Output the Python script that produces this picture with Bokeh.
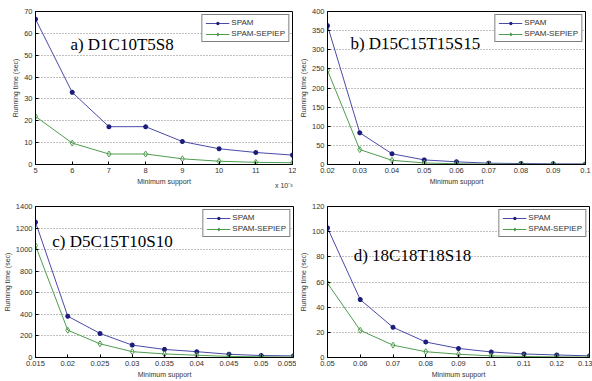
from bokeh.plotting import figure
from bokeh.layouts import column, row
from bokeh.models import Label, Range1d, FixedTicker, Legend, Title
from bokeh.embed import file_html
from bokeh.resources import INLINE

# ---- data ----
a_x = [5, 6, 7, 8, 9, 10, 11, 12]  # x 10^-3
a_spam = [66.5, 33.0, 17.3, 17.3, 10.5, 7.2, 5.5, 4.3]
a_sep = [22.0, 9.8, 4.8, 4.8, 2.6, 1.5, 1.0, 0.8]
a_xticks = [5, 6, 7, 8, 9, 10, 11, 12]
a_yticks = [0, 10, 20, 30, 40, 50, 60, 70]

b_x = [0.02, 0.03, 0.04, 0.05, 0.06, 0.07, 0.08, 0.09, 0.1]
b_spam = [363, 83, 28, 12, 7, 3.5, 2.5, 1.7, 1.5]
b_sep = [246, 39, 11, 4, 2, 1, 0.7, 0.5, 0.3]
b_yticks = [0, 50, 100, 150, 200, 250, 300, 350, 400]

c_x = [0.015, 0.02, 0.025, 0.03, 0.035, 0.04, 0.045, 0.05, 0.055]
c_spam = [1255, 383, 223, 115, 75, 54, 30, 18, 15]
c_sep = [1038, 253, 127, 54, 33, 21, 10, 6, 4]
c_yticks = [0, 200, 400, 600, 800, 1000, 1200, 1400]

d_x = [0.05, 0.06, 0.07, 0.08, 0.09, 0.1, 0.11, 0.12, 0.13]
d_spam = [103, 46, 24, 12.3, 7.2, 4.4, 2.8, 2.0, 1.3]
d_sep = [59, 21.6, 9.8, 4.6, 2.6, 1.3, 0.8, 0.5, 0.3]
d_yticks = [0, 20, 40, 60, 80, 100, 120]

xt_b = [0.02, 0.03, 0.04, 0.05, 0.06, 0.07, 0.08, 0.09, 0.1]
xl_b = ["0.02", "0.03", "0.04", "0.05", "0.06", "0.07", "0.08", "0.09", "0.1"]
xt_c = [0.015, 0.02, 0.025, 0.03, 0.035, 0.04, 0.045, 0.05, 0.055]
xl_c = ["0.015", "0.02", "0.025", "0.03", "0.035", "0.04", "0.045", "0.05", "0.055"]
xt_d = [0.05, 0.06, 0.07, 0.08, 0.09, 0.1, 0.11, 0.12, 0.13]
xl_d = ["0.05", "0.06", "0.07", "0.08", "0.09", "0.1", "0.11", "0.12", "0.13"]

titles = ["a) D1C10T5S8", "b) D15C15T15S15", "c) D5C15T10S10", "d) 18C18T18S18"]
series_names = ["SPAM", "SPAM-SEPIEP"]
multiplier = "x 10⁻³"

BLUE_LINE = "#4a4aa8"
BLUE_MARK = "#1c1c7a"
GREEN = "#4f9c4f"


def panel(xs, spam, sep, xticks, yticks, xr, yr, title, tx, ty, w, h, borders, xlabels=None):
    p = figure(width=w, height=h, output_backend="svg", toolbar_location=None,
               x_range=Range1d(*xr), y_range=Range1d(*yr),
               min_border_left=borders[0], min_border_right=borders[1],
               min_border_top=borders[2], min_border_bottom=borders[3])
    p.outline_line_color = "black"
    p.outline_line_width = 1
    p.background_fill_color = "white"
    p.xgrid.visible = False
    p.ygrid.grid_line_color = "#808080"
    p.ygrid.grid_line_dash = "1 2"
    p.ygrid.grid_line_width = 1
    for ax in (p.xaxis[0], p.yaxis[0]):
        ax.major_tick_in = 3
        ax.major_tick_out = 0
        ax.minor_tick_line_color = None
        ax.axis_line_color = "black"
        ax.major_label_text_font = "Liberation Sans"
        ax.major_label_text_font_size = "7.5px"
        ax.major_label_text_color = "#333333"
        ax.axis_label_text_font = "Liberation Sans"
        ax.axis_label_text_font_size = "7px"
        ax.axis_label_text_font_style = "normal"
        ax.axis_label_text_color = "#333333"
        ax.major_label_standoff = 3
        ax.axis_label_standoff = 2
    p.xaxis.ticker = FixedTicker(ticks=xticks)
    if xlabels is not None:
        p.xaxis.major_label_overrides = {t: l for t, l in zip(xticks, xlabels)}
    p.yaxis.ticker = FixedTicker(ticks=yticks)
    p.xaxis.axis_label = "Minimum support"
    p.yaxis.axis_label = "Running time (sec)"

    r1 = p.line(xs, spam, line_color=BLUE_LINE, line_width=1)
    s1 = p.scatter(xs, spam, marker="asterisk", size=5, line_color=BLUE_MARK, line_width=1.5)
    r2 = p.line(xs, sep, line_color=GREEN, line_width=1)
    s2 = p.scatter(xs, sep, marker="diamond", size=6, line_color=GREEN, fill_color=None, line_width=1)
    leg = Legend(items=[(series_names[0], [r1, s1]), (series_names[1], [r2, s2])],
                 location="top_right", label_text_font="Liberation Sans",
                 label_text_font_size="8px", label_text_color="#333333",
                 glyph_width=24, glyph_height=8, label_height=8, spacing=2,
                 padding=3, margin=3, border_line_color="black", border_line_width=1,
                 label_standoff=2)
    p.add_layout(leg)
    p.add_layout(Label(x=tx, y=ty, text=title, text_font="Liberation Serif",
                       text_font_size="17px", text_baseline="middle", text_color="black"))
    return p


pa = panel(a_x, a_spam, a_sep, a_xticks, a_yticks, (5, 12), (0, 70), titles[0],
           5.95, 55, 296, 190, (35, 4, 10, 26))
pa.add_layout(Title(text=multiplier, align="right", vertical_align="top",
                    text_font="Liberation Sans", text_font_size="7px",
                    text_font_style="normal", text_color="#333333", standoff=-12), "below")
pb = panel(b_x, b_spam, b_sep, xt_b, b_yticks, (0.02, 0.1), (0, 400), titles[1],
           0.0271, 317, 296, 190, (29, 7, 11, 24), xlabels=xl_b)
pc = panel(c_x, c_spam, c_sep, xt_c, c_yticks, (0.015, 0.055), (0, 1400), titles[2],
           0.0176, 1073, 296, 191, (35, 3, 16, 21), xlabels=xl_c)
pd_ = panel(d_x, d_spam, d_sep, xt_d, d_yticks, (0.05, 0.13), (0, 120), titles[3],
            0.058, 80.8, 296, 191, (31, 3, 11, 24), xlabels=xl_d)

layout = column(row(pa, pb), row(pc, pd_))
open("out.html", "w").write(file_html(layout, INLINE))
